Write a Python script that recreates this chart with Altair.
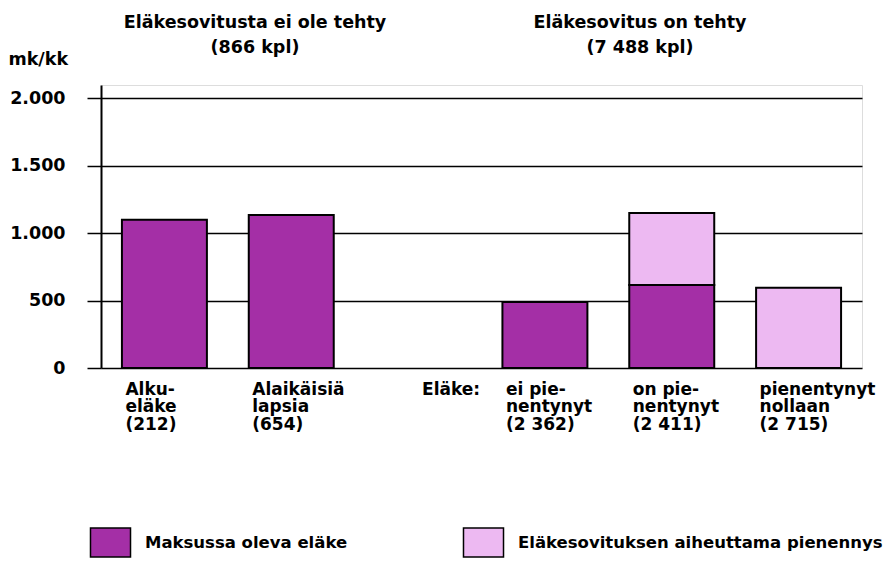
import altair as alt
import pandas as pd

categories = ["Alku-|eläke|(212)", "Alaikäisiä|lapsia|(654)", "Eläke:",
              "ei pie-|nentynyt|(2 362)", "on pie-|nentynyt|(2 411)", "pienentynyt|nollaan|(2 715)"]
paid = [1100, 1135, 0, 490, 615, 0]
reduction = [0, 0, 0, 0, 535, 595]
series = ["Maksussa oleva eläke", "Eläkesovituksen aiheuttama pienennys"]
colors = ["#A42FA6", "#EDB9F2"]
y_ticks = [0, 500, 1000, 1500, 2000]
title_left = "Eläkesovitusta ei ole tehty|(866 kpl)"
title_right = "Eläkesovitus on tehty|(7 488 kpl)"
y_title = "mk/kk"

rows = []
for c, p, r in zip(categories, paid, reduction):
    if p > 0:
        rows.append({"cat": c, "series": series[0], "value": p, "order": 0})
    if r > 0:
        rows.append({"cat": c, "series": series[1], "value": r, "order": 1})
df = pd.DataFrame(rows)

FONT = "DejaVu Sans"
FS = 17.5
W, H = 761, 283

x = alt.X("cat:N", sort=categories,
          scale=alt.Scale(domain=categories, paddingInner=0.33, paddingOuter=0.165),
          axis=alt.Axis(title=None, domain=False, ticks=False,
                        labelExpr="split(datum.label, '|')",
                        labelAlign="left", labelBaseline="top",
                        labelOffset={"condition": {"test": "datum.label == 'Eläke:'", "value": 4}, "value": -39},
                        labelPadding=13, labelLineHeight=17.5,
                        labelFontSize=17, labelFontWeight="bold", labelFont=FONT,
                        labelColor="black", labelLimit=0, labelAngle=0))

y = alt.Y("value:Q", stack="zero",
          scale=alt.Scale(domain=[0, 2100], nice=False),
          axis=alt.Axis(values=y_ticks, title=y_title, titleAngle=0, titleAlign="left",
                        titleX=-93, titleY=-17, titleFontSize=FS, titleFontWeight="bold",
                        titleFont=FONT, titleColor="black",
                        grid=True, gridColor="black", gridWidth=1.5,
                        ticks=True, tickSize=14, tickColor="black", tickWidth=1.5,
                        domain=True, domainColor="black", domainWidth=2,
                        labelExpr="replace(format(datum.value, ','), ',', '.')",
                        labelPadding=22, labelFontSize=FS, labelFontWeight="bold",
                        labelFont=FONT, labelColor="black"))

bars = alt.Chart(df).mark_bar(stroke="black", strokeWidth=2).encode(
    x=x, y=y,
    color=alt.Color("series:N", scale=alt.Scale(domain=series, range=colors),
                    legend=alt.Legend(title=None, orient="none", legendX=-6, legendY=442,
                                      direction="horizontal", columns=2, padding=0,
                                      symbolType="M-1.38,-1L1.38,-1L1.38,1L-1.38,1Z",
                                      symbolSize=841, symbolStrokeColor="black",
                                      symbolStrokeWidth=1.5, symbolOpacity=1,
                                      labelFontSize=16.5, labelFontWeight="bold",
                                      labelFont=FONT, labelColor="black", labelOffset=19,
                                      labelLimit=0, columnPadding=112)),
    order=alt.Order("order:Q"),
)

t1 = alt.Chart(pd.DataFrame({"t": [title_left]})).mark_text(
    lineBreak="|", fontSize=FS, fontWeight="bold", font=FONT, align="center",
    baseline="alphabetic", lineHeight=25, color="black"
).encode(text="t:N", x=alt.value(154), y=alt.value(-57))

t2 = alt.Chart(pd.DataFrame({"t": [title_right]})).mark_text(
    lineBreak="|", fontSize=FS, fontWeight="bold", font=FONT, align="center",
    baseline="alphabetic", lineHeight=25, color="black"
).encode(text="t:N", x=alt.value(539), y=alt.value(-57))

chart = alt.layer(bars, t1, t2).properties(
    width=W, height=H,
    autosize=alt.AutoSizeParams(type="none"),
    padding={"left": 93, "top": 77, "right": 24, "bottom": 203},
).configure_view(stroke=None).configure(background="white")

chart.save("out.html", embed_options={"renderer": "svg", "actions": False})
